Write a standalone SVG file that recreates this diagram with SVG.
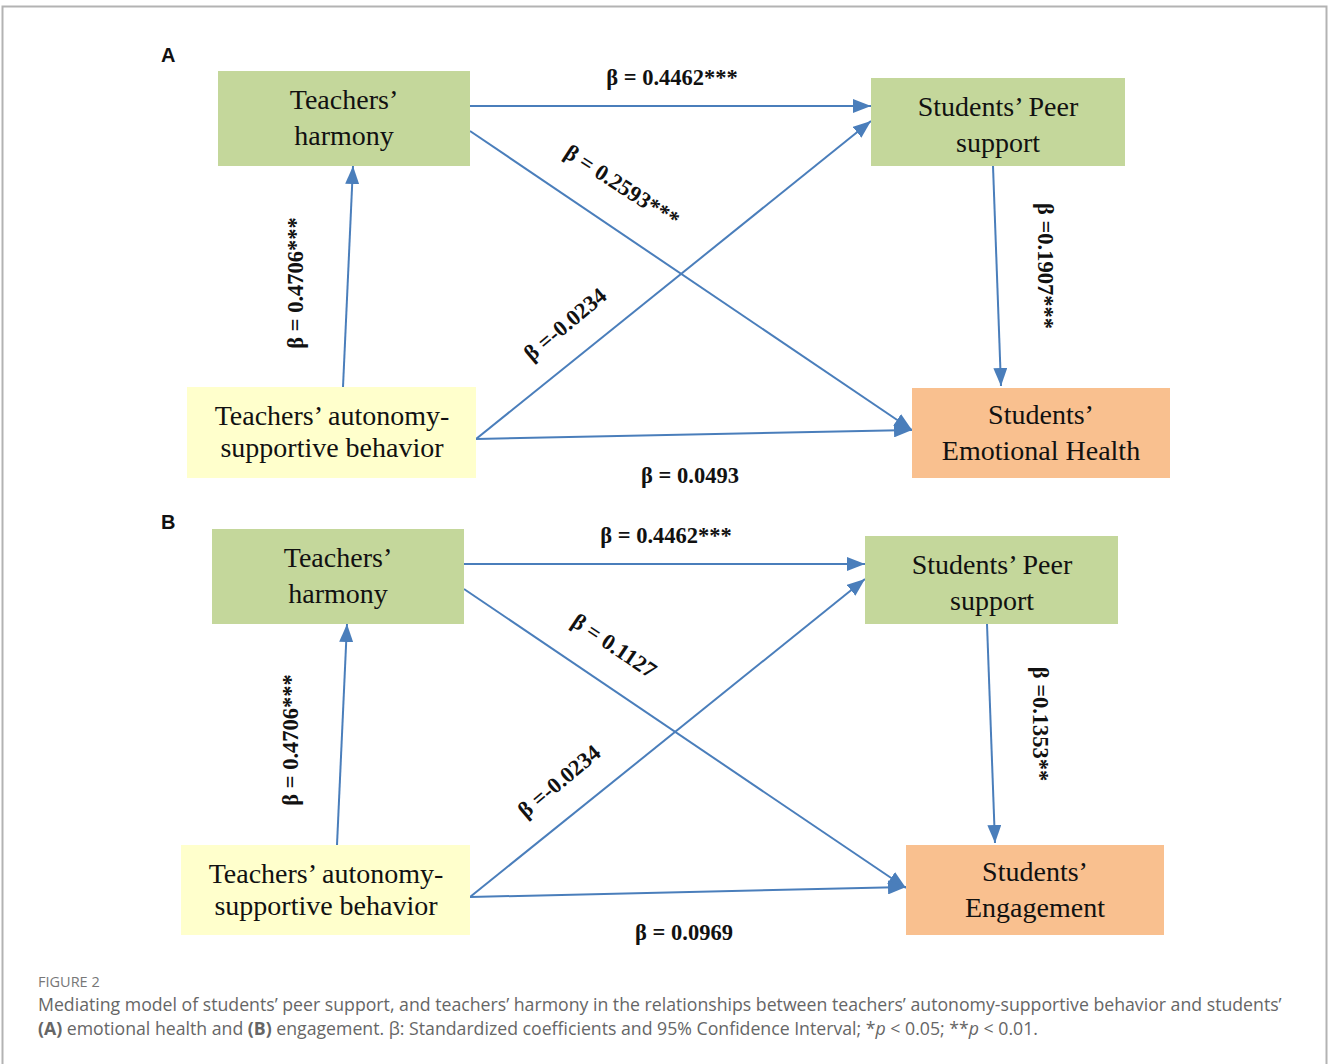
<svg xmlns="http://www.w3.org/2000/svg" width="1328" height="1064" viewBox="0 0 1328 1064">
<defs>
<style>
.frame{fill:none;stroke:#b3b3b3;stroke-width:2}
.green{fill:#c4d79b}
.yellow{fill:#ffffcc}
.orange{fill:#f9c08f}
.nt{font-family:"Liberation Serif","Times New Roman",serif;font-size:28px;fill:#111;text-anchor:middle}
.lb{font-family:"Liberation Serif","Times New Roman",serif;font-size:22.5px;font-weight:bold;fill:#111;text-anchor:middle}
.edge{stroke:#4a7ebb;stroke-width:2;fill:none;marker-end:url(#ah)}
.panel{font-family:"Liberation Sans",Arial,sans-serif;font-size:20px;font-weight:bold;fill:#111}
.cap1{font-family:"Open Sans","Noto Sans",sans-serif;font-size:14.5px;fill:#777}
.cap{font-family:"Open Sans","Noto Sans",sans-serif;font-size:17.7px;fill:#666}
</style>
<marker id="ah" markerUnits="userSpaceOnUse" markerWidth="20" markerHeight="14" refX="18" refY="7" orient="auto">
<path d="M0,0 L18,7 L0,14 Z" fill="#4a7ebb"/>
</marker>
</defs>
<rect width="1328" height="1064" fill="#fff"/>
<path class="frame" d="M2.5,1064 V6.5 H1326.5 V1064"/>

<text class="panel" x="161" y="62">A</text>
<text class="panel" x="161" y="529">B</text>

<g id="connectors">
<line class="edge" x1="470" y1="106" x2="871" y2="106"/>
<line class="edge" x1="470" y1="131" x2="912" y2="430"/>
<line class="edge" x1="476" y1="439" x2="871" y2="121"/>
<line class="edge" x1="476" y1="439" x2="912" y2="430"/>
<line class="edge" x1="343" y1="387" x2="353" y2="166"/>
<line class="edge" x1="993" y1="166" x2="1001" y2="386"/>

<line class="edge" x1="464" y1="564" x2="865" y2="564"/>
<line class="edge" x1="464" y1="589" x2="906" y2="888"/>
<line class="edge" x1="470" y1="897" x2="865" y2="579"/>
<line class="edge" x1="470" y1="897" x2="906" y2="887"/>
<line class="edge" x1="337" y1="845" x2="347" y2="624"/>
<line class="edge" x1="987" y1="624" x2="995" y2="843"/>
</g>

<g id="labels">
<text class="lb" x="672" y="85">β = 0.4462***</text>
<text class="lb" transform="translate(618,192) rotate(33)">β = 0.2593***</text>
<text class="lb" transform="translate(303,283) rotate(-90)">β = 0.4706***</text>
<text class="lb" transform="translate(570,330) rotate(-40)">β =-0.0234</text>
<text class="lb" transform="translate(1038,266) rotate(90)">β =0.1907***</text>
<text class="lb" x="690" y="483">β = 0.0493</text>

<text class="lb" x="666" y="543">β = 0.4462***</text>
<text class="lb" transform="translate(610,652) rotate(34)">β = 0.1127</text>
<text class="lb" transform="translate(298,740) rotate(-90)">β = 0.4706***</text>
<text class="lb" transform="translate(564,787) rotate(-40)">β =-0.0234</text>
<text class="lb" transform="translate(1033,724) rotate(90)">β =0.1353**</text>
<text class="lb" x="684" y="940">β = 0.0969</text>
</g>

<g id="a-harmony"><rect class="green" x="218" y="71" width="252" height="95"/><text class="nt" x="344" y="109">Teachers’</text><text class="nt" x="344" y="145">harmony</text></g>
<g id="a-peer"><rect class="green" x="871" y="78" width="254" height="88"/><text class="nt" x="998" y="116">Students’ Peer</text><text class="nt" x="998" y="152">support</text></g>
<g id="a-autonomy"><rect class="yellow" x="187" y="387" width="289" height="91"/><text class="nt" x="332" y="425">Teachers’ autonomy-</text><text class="nt" x="332" y="457">supportive behavior</text></g>
<g id="a-emotional"><rect class="orange" x="912" y="388" width="258" height="90"/><text class="nt" x="1041" y="424">Students’</text><text class="nt" x="1041" y="460">Emotional Health</text></g>

<g id="b-harmony"><rect class="green" x="212" y="529" width="252" height="95"/><text class="nt" x="338" y="567">Teachers’</text><text class="nt" x="338" y="603">harmony</text></g>
<g id="b-peer"><rect class="green" x="865" y="536" width="253" height="88"/><text class="nt" x="992" y="574">Students’ Peer</text><text class="nt" x="992" y="610">support</text></g>
<g id="b-autonomy"><rect class="yellow" x="181" y="845" width="289" height="90"/><text class="nt" x="326" y="883">Teachers’ autonomy-</text><text class="nt" x="326" y="915">supportive behavior</text></g>
<g id="b-engagement"><rect class="orange" x="906" y="845" width="258" height="90"/><text class="nt" x="1035" y="881">Students’</text><text class="nt" x="1035" y="917">Engagement</text></g>

<text class="cap1" x="38" y="987">FIGURE 2</text>
<text class="cap" x="38" y="1011">Mediating model of students’ peer support, and teachers’ harmony in the relationships between teachers’ autonomy-supportive behavior and students’</text>
<text class="cap" x="38" y="1035"><tspan font-weight="bold">(A)</tspan> emotional health and <tspan font-weight="bold">(B)</tspan> engagement. β: Standardized coefficients and 95% Confidence Interval; *<tspan font-style="italic">p</tspan> &lt; 0.05; **<tspan font-style="italic">p</tspan> &lt; 0.01.</text>
</svg>
